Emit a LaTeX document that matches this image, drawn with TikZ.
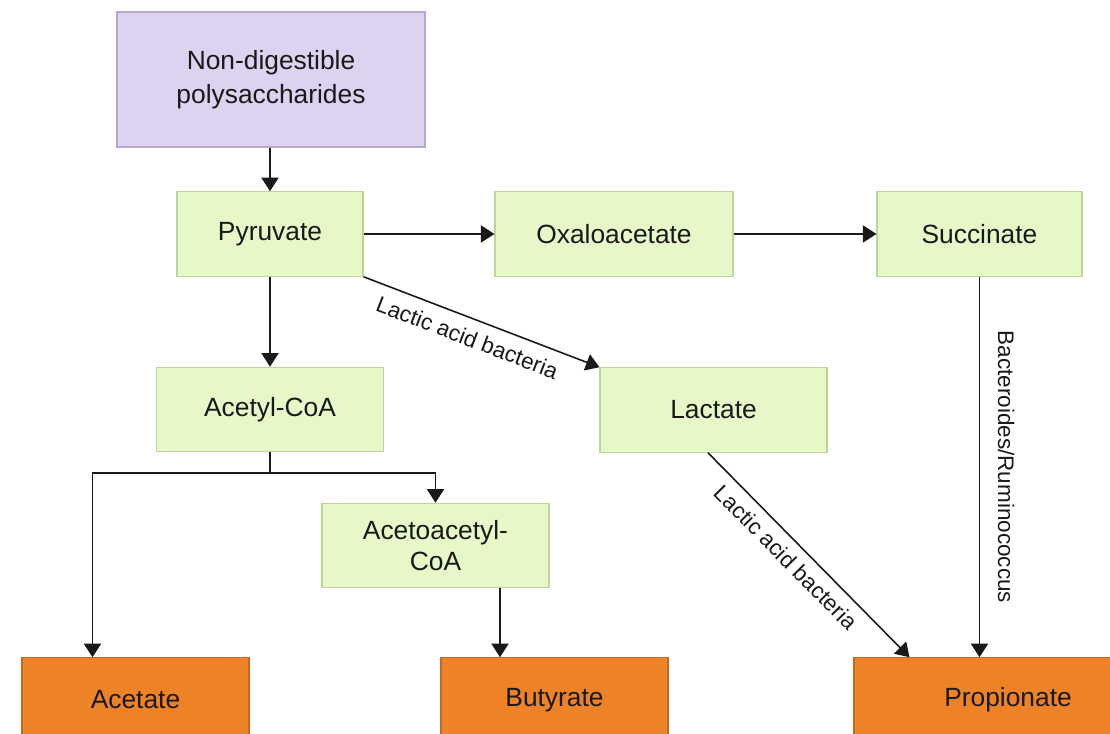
\documentclass[tikz,border=0pt]{standalone}
\usepackage{fontspec}
\setmainfont{Liberation Sans}
\usepackage{xcolor}
\usepackage{tikz}
\usetikzlibrary{arrows.meta, positioning, calc}
\definecolor{mypurple}{RGB}{221,211,240}
\definecolor{edgepurple}{RGB}{180,168,205}
\definecolor{mygreen}{RGB}{230,247,200}
\definecolor{edgegreen}{RGB}{188,214,152}
\definecolor{myorange}{RGB}{237,130,38}
\definecolor{edgeorange}{RGB}{196,104,38}
\definecolor{mydark}{RGB}{25,25,25}
\tikzset{
  block/.style={rectangle, draw=edgegreen, fill=mygreen,
    minimum width=4.54cm, minimum height=1.69cm, inner sep=0pt,
    align=center, font=\fontsize{15}{17.5}\selectfont, text=mydark, line width=0.6pt},
  purpleblock/.style={block, draw=edgepurple, fill=mypurple,
    minimum width=6.16cm, minimum height=2.70cm, font=\fontsize{15}{19}\selectfont},
  orangeblock/.style={block, draw=edgeorange, fill=myorange},
  bactlabel/.style={font=\fontsize{12.8}{15}\selectfont, text=mydark, inner sep=5pt},
  arrow/.style={-{Triangle[length=0.27cm, width=0.34cm]}, line width=0.9pt, color=mydark},
  line/.style={line width=0.9pt, color=mydark}
}

\begin{document}
\begin{tikzpicture}
  \useasboundingbox (0,0) rectangle (22.2,14.66);
  \clip (0,0) rectangle (22.2,14.66);

  % Substrate
  \node[purpleblock] (poly) at (5.42,13.07) {Non-digestible\\polysaccharides};

  % Intermediates
  \node[block, minimum width=3.72cm] (pyr) at (5.40,9.98) {Pyruvate};
  \node[block, minimum width=4.76cm] (oxa) at (12.28,9.98) {Oxaloacetate};
  \node[block, minimum width=4.10cm] (suc) at (19.59,9.98) {Succinate};
  \node[block] (acoa) at (5.40,6.47) {Acetyl-CoA};
  \node[block] (lac) at (14.27,6.46) {Lactate};
  \node[block] (aaco) at (8.71,3.75) {Acetoacetyl-\\CoA};

  % Short chain fatty acids
  \node[orangeblock] (acet) at (2.71,0.66) {Acetate};
  \node[orangeblock] (but) at (11.09,0.66) {Butyrate};
  \node[orangeblock, minimum width=6.16cm] (prop) at (20.16,0.66) {Propionate};

  % Pyruvate routes
  \draw[arrow] (pyr.north |- poly.south) -- (pyr.north);
  \draw[arrow] (pyr) -- (oxa);
  \draw[arrow] (oxa) -- (suc);
  \draw[arrow] (pyr) -- (acoa);
  \draw[arrow] (pyr.south east) -- node[bactlabel, below, sloped, pos=0.47, inner sep=6pt] {Lactic acid bacteria} (lac.north west);

  % Propionate
  \coordinate (propin) at ($(prop.north west)+(1.12,0)$);
  \draw[arrow] (suc) -- node[bactlabel, above, sloped, inner sep=10pt] {Bacteroides/Ruminococcus} (suc |- prop.north);
  \draw[arrow] ([xshift=-0.11cm]lac.south) -- node[bactlabel, below, sloped, pos=0.45] {Lactic acid bacteria} (propin);

  % Acetate and butyrate
  \coordinate (split) at ($(acoa.south)+(0,-0.42)$);
  \coordinate (acetin) at ($(acet.north west)+(1.42,0)$);
  \coordinate (aacout) at ($(aaco.south)+(1.29,0)$);
  \draw[line] (acoa.south) -- (split);
  \draw[arrow] (split) -| (acetin);
  \draw[arrow] (split) -| (aaco.north);
  \draw[arrow] (aacout) -- (aacout |- but.north);
\end{tikzpicture}
\end{document}
